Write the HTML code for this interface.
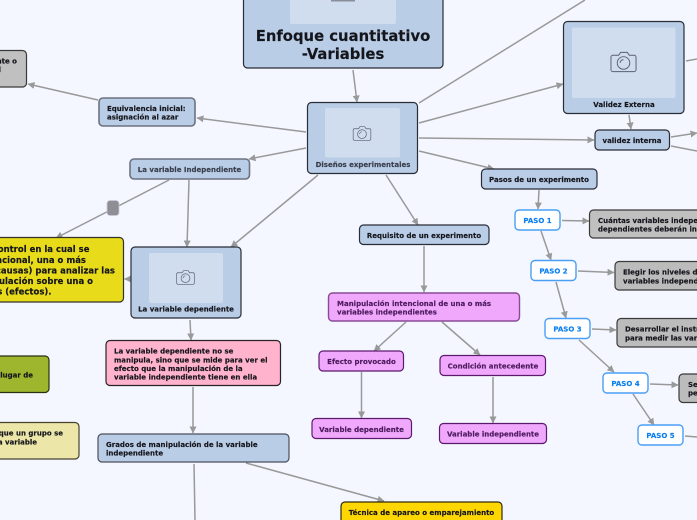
<!DOCTYPE html>
<html><head><meta charset="utf-8"><style>
html,body{margin:0;padding:0;background:#f4f7ff;overflow:hidden}
svg{display:block}
text{font-family:"DejaVu Sans","Liberation Sans",sans-serif;font-weight:bold;font-size:7px;fill:#15151c;stroke:#15151c;stroke-width:.15px}
.c{text-anchor:middle}
.e{text-anchor:end}
.b{fill:#b9cde6;stroke:#2a2d36;stroke-width:1.2}
.bg{fill:#b9cde6;stroke:#6c7280;stroke-width:1.6}
.g{fill:#c0c0c0;stroke:#3a3a3a;stroke-width:1.2}
.p{fill:#fff;stroke:#4a9ff5;stroke-width:1.4}
text.pt{fill:#0a7ff0;stroke:#0a7ff0;text-anchor:middle;font-size:7px}
.m{fill:#f0a8fc;stroke:#5c1a6c;stroke-width:1.2}
text.mt{fill:#4e1a5e;stroke:#4e1a5e}
text.s{fill:#3a3f4c;stroke:#3a3f4c}
.i{fill:#d0ddee}
.l{stroke:#999;stroke-width:1.5;fill:none;marker-end:url(#a)}
.n{stroke:#999;stroke-width:1.5;fill:none}
.cam{fill:none;stroke:#5a6070;stroke-width:1}
text.y{font-size:8.500px}
</style></head><body>
<svg width="697" height="520" viewBox="0 0 697 520" xmlns="http://www.w3.org/2000/svg">
<defs>
<marker id="a" markerUnits="userSpaceOnUse" markerWidth="8" markerHeight="8" refX="6.5" refY="4" orient="auto"><path d="M0 0.5L7 4L0 7.5Z" fill="#999"/></marker>
<symbol id="cam" viewBox="0 0 28 24" overflow="visible"><path class="cam" d="M3 5h6l2-3h7l2 3h5a2 2 0 0 1 2 2v13a2 2 0 0 1-2 2H3a2 2 0 0 1-2-2V7a2 2 0 0 1 2-2z"/><circle class="cam" cx="14" cy="13" r="6.5"/><path class="cam" d="M10.5 13a3.5 3.5 0 0 1 3.5-3.5"/></symbol>
</defs>
<rect width="697" height="520" fill="#f4f7ff"/>

<g>
<path class="l" d="M353 70L357 102"/>
<path class="l" d="M306 132L197 118"/>
<path class="l" d="M98 100L28 84"/>
<path class="l" d="M306 148L249 159"/>
<path class="l" d="M318 175L231 247"/>
<path class="l" d="M169 180L56 238"/>
<path class="l" d="M189 180L187 247"/>
<path class="l" d="M131 279L124.500 279"/>
<path class="l" d="M190 320L191 340"/>
<path class="l" d="M193 387L193 433"/>
<path class="n" d="M194 464L195 520"/>
<path class="l" d="M246 463L384 501"/>
<path class="n" d="M419 103L585 0"/>
<path class="l" d="M419 123L563 84"/>
<path class="l" d="M419 138L594 140"/>
<path class="l" d="M419 151L494 169"/>
<path class="l" d="M386 175L418 225"/>
<path class="l" d="M424 246L424 292"/>
<path class="l" d="M629 115L631 129"/>
<path class="n" d="M686 61L697 59"/>
<path class="l" d="M671 137L697 133"/>
<path class="n" d="M671 146L697 151"/>
<path class="l" d="M539 190L538 209"/>
<path class="l" d="M562 220.500L589 221"/>
<path class="l" d="M541 231L551 260"/>
<path class="l" d="M578 271L614 272.500"/>
<path class="l" d="M556 282L566 318"/>
<path class="l" d="M592 329L616 330"/>
<path class="l" d="M579 340L614 372"/>
<path class="l" d="M650 384L678 385"/>
<path class="l" d="M633 394L654 425"/>
<path class="n" d="M685 436L697 437"/>
<path class="l" d="M406 322L374 351"/>
<path class="l" d="M442 322L480 355"/>
<path class="l" d="M361.500 372L361.500 418"/>
<path class="l" d="M493 377L493 423"/>
</g>

<!-- Title -->
<rect class="b" x="243.500" y="-20" width="199.500" height="88" rx="4"/>
<rect class="i" x="290" y="-20" width="106" height="44" rx="2"/>
<rect x="331" y="0" width="24" height="1.500" fill="#8a8f9a"/>
<text class="c" x="343" y="41" style="font-size:14.800px">Enfoque cuantitativo</text>
<text class="c" x="343" y="59" style="font-size:14.800px">-Variables</text>

<!-- Disenos -->
<rect class="b" x="307.500" y="102.500" width="110" height="71" rx="4"/>
<rect class="i" x="325" y="108" width="75" height="49.500" rx="2"/>
<use href="#cam" x="352.500" y="125" width="19" height="17"/>
<text class="c s" x="363" y="167">Diseños experimentales</text>

<!-- Equivalencia -->
<rect class="bg" x="99" y="98" width="96" height="28" rx="4"/>
<text x="107" y="111">Equivalencia inicial:</text>
<text x="107" y="119.500">asignación al azar</text>

<!-- gray top left -->
<rect class="g" x="-20" y="50.500" width="46.500" height="36.500" rx="4"/>
<text class="e" x="17" y="63.500">nte o</text>
<text class="e" x="1" y="72">l</text>

<!-- LVI -->
<rect class="bg" x="130" y="159" width="119.500" height="20" rx="4"/>
<text class="c s" x="189.500" y="172">La variable Independiente</text>

<rect x="107" y="200.500" width="12" height="15" rx="3" fill="#8e8e94" stroke="#c8ccd8" stroke-width=".8"/>

<!-- Yellow -->
<rect x="-20" y="237.500" width="143.500" height="64.500" rx="4" fill="#e8dc1a" stroke="#33312a" stroke-width="1.200"/>
<text class="e y" x="89.500" y="252">un control en la cual se</text>
<text class="e y" x="86" y="263">intencional, una o más</text>
<text class="e y" x="115" y="273.500">(causas) para analizar las</text>
<text class="e y" x="93" y="284">manipulación sobre una o</text>
<text class="e y" x="51.500" y="294.500">variables (efectos).</text>

<!-- LVD -->
<rect class="b" x="131" y="247" width="110" height="71" rx="4"/>
<rect class="i" x="149" y="253" width="74" height="50" rx="2"/>
<use href="#cam" x="176" y="269" width="19" height="17"/>
<text class="c" x="186" y="311.500">La variable dependiente</text>

<!-- Pink -->
<rect x="106" y="340.500" width="174.500" height="45" rx="4" fill="#ffb3cc" stroke="#2a2225" stroke-width="1.200"/>
<text x="114" y="353.500">La variable dependiente no se</text>
<text x="114" y="362.500">manipula, sino que se mide para ver el</text>
<text x="114" y="371">efecto que la manipulación de la</text>
<text x="114" y="379.500">variable independiente tiene en ella</text>

<!-- Olive -->
<rect x="-20" y="356" width="69" height="36.500" rx="4" fill="#9eb62e" stroke="#2a3010" stroke-width="1.200"/>
<text class="e" x="33" y="377.500">lugar de</text>

<!-- Khaki -->
<rect x="-20" y="422.500" width="99" height="36.500" rx="4" fill="#ece7a8" stroke="#44422e" stroke-width="1.200"/>
<text class="e" x="63" y="435.500">que un grupo se</text>
<text class="e" x="37" y="444.500">a variable</text>

<!-- Grados -->
<rect class="b" x="98" y="434" width="191" height="28" rx="4" style="stroke:#4a4f5c"/>
<text x="106" y="447">Grados de manipulación de la variable</text>
<text x="106" y="455.500">independiente</text>

<!-- Tecnica -->
<rect x="341" y="502" width="161" height="30" rx="4" fill="#ffd700" stroke="#2e2a10" stroke-width="1.200"/>
<text class="c" x="421.500" y="515">Técnica de apareo o emparejamiento</text>

<!-- Requisito -->
<rect class="b" x="359.500" y="225" width="129.500" height="19.500" rx="4"/>
<text class="c" x="424" y="238">Requisito de un experimento</text>

<!-- Pasos -->
<rect class="b" x="481.500" y="169" width="115.500" height="20" rx="4"/>
<text class="c" x="539" y="182">Pasos de un experimento</text>

<!-- Validez externa -->
<rect class="b" x="563.500" y="21.500" width="120.500" height="92" rx="4"/>
<rect class="i" x="572" y="27.500" width="103.500" height="70.500" rx="2"/>
<use href="#cam" x="610" y="50" width="27" height="24"/>
<text class="c" x="624" y="107">Validez Externa</text>

<!-- validez interna -->
<rect class="b" x="595" y="130" width="74.500" height="20" rx="4"/>
<text class="c" x="632" y="143">validez interna</text>

<!-- Pasos -->
<rect class="p" x="515" y="210" width="45" height="20" rx="4"/>
<text class="pt" x="537.500" y="223">PASO 1</text>
<rect class="g" x="589.500" y="210" width="130" height="28" rx="4"/>
<text x="598" y="223">Cuántas variables independientes y</text>
<text x="598" y="231.500">dependientes deberán incluirse</text>

<rect class="p" x="531" y="260.500" width="45" height="20" rx="4"/>
<text class="pt" x="553.500" y="273.500">PASO 2</text>
<rect class="g" x="615" y="261.500" width="130" height="28.500" rx="4" style="fill:#bcbcbc"/>
<text x="623" y="274.500">Elegir los niveles de las</text>
<text x="623" y="283.500">variables independientes</text>

<rect class="p" x="545" y="318.500" width="45" height="20" rx="4"/>
<text class="pt" x="567.500" y="331.500">PASO 3</text>
<rect class="g" x="617" y="318.500" width="130" height="28.500" rx="4" style="fill:#bcbcbc"/>
<text x="625" y="331.500">Desarrollar el instrumento</text>
<text x="625" y="340.500">para medir las variables</text>

<rect class="p" x="603" y="373" width="45" height="20" rx="4"/>
<text class="pt" x="625.500" y="386">PASO 4</text>
<rect class="g" x="679" y="374" width="60" height="28.500" rx="4" style="fill:#bcbcbc"/>
<text x="688" y="387">Seleccionar</text>
<text x="688" y="395.500">personas</text>

<rect class="p" x="638" y="425" width="45" height="20" rx="4"/>
<text class="pt" x="660.500" y="438">PASO 5</text>

<!-- Magenta -->
<rect class="m" x="328.500" y="293" width="191" height="28" rx="4" style="stroke:#8a4a96;stroke-width:1.400"/>
<text class="mt" x="337" y="306">Manipulación intencional de una o más</text>
<text class="mt" x="337" y="314.500">variables independientes</text>

<rect class="m" x="319" y="351" width="84.500" height="20" rx="4"/>
<text class="c mt" x="361.500" y="364">Efecto provocado</text>

<rect class="m" x="440" y="355.500" width="105.500" height="20" rx="4"/>
<text class="c mt" x="493" y="368.500">Condición antecedente</text>

<rect class="m" x="312" y="418.500" width="99.500" height="20" rx="4"/>
<text class="c mt" x="361.500" y="432">Variable dependiente</text>

<rect class="m" x="439.500" y="423.500" width="107" height="20" rx="4"/>
<text class="c mt" x="493" y="436.500">Variable independiente</text>
</svg>
</body></html>
